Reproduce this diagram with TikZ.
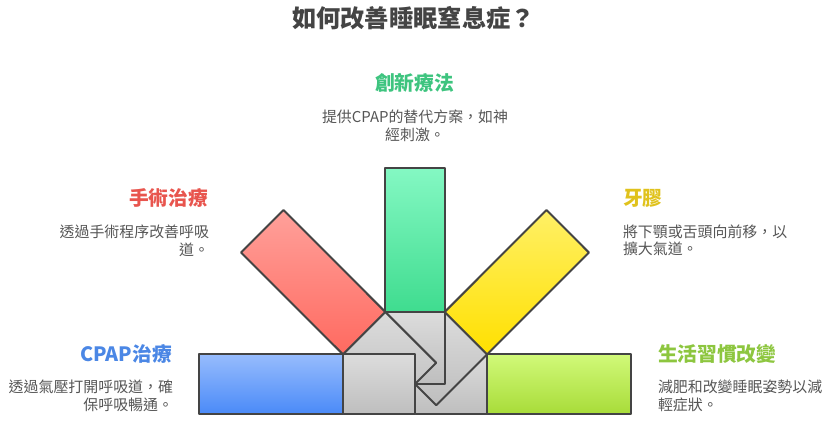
\documentclass[tikz,border=0pt]{standalone}
\usepackage{fontspec}
\setmainfont{Noto Sans CJK TC}

\definecolor{edgegray}{RGB}{68,68,68}
\definecolor{titlegray}{RGB}{68,68,68}
\definecolor{blurbgray}{RGB}{85,85,85}
\definecolor{hubtop}{RGB}{220,220,220}
\definecolor{hubbottom}{RGB}{190,190,190}
\definecolor{bluetop}{RGB}{151,188,253}
\definecolor{bluebottom}{RGB}{74,138,248}
\definecolor{redtop}{RGB}{255,160,154}
\definecolor{redbottom}{RGB}{255,106,96}
\definecolor{greentop}{RGB}{132,248,195}
\definecolor{greenbottom}{RGB}{63,220,143}
\definecolor{yellowtop}{RGB}{255,240,102}
\definecolor{yellowbottom}{RGB}{255,224,0}
\definecolor{limetop}{RGB}{209,249,121}
\definecolor{limebottom}{RGB}{168,220,57}
\definecolor{bluelabel}{RGB}{75,135,229}
\definecolor{redlabel}{RGB}{232,85,78}
\definecolor{greenlabel}{RGB}{62,196,127}
\definecolor{yellowlabel}{RGB}{224,194,28}
\definecolor{limelabel}{RGB}{141,198,63}

\tikzset{every picture/.style={line width=1.5pt}}
\tikzset{
	part/.style={draw=edgegray, line join=round},
	hub/.style={part, top color=hubtop, bottom color=hubbottom},
	heading/.style={font=\bfseries\fontsize{14.8}{17}\selectfont, inner sep=0pt},
	blurb/.style={font=\fontsize{11.2}{13.2}\selectfont, text=blurbgray, inner sep=0pt}}

\begin{document}
\begin{tikzpicture}[x=0.75pt,y=0.75pt,yscale=-1,xscale=1]
	\useasboundingbox (0,0) rectangle (827,426);

	%Shape: Rectangle (lime arm, hub part)
	\draw [hub] (415,354) -- (487,354) -- (487,414) -- (415,414) -- cycle ;
	%Shape: Rectangle (lime arm)
	\draw [part, top color=limetop, bottom color=limebottom] (487,354) -- (631,354) -- (631,414) -- (487,414) -- cycle ;
	%Shape: Rectangle (yellow arm, hub part)
	\draw [hub] (444.7,311.9) -- (487.1,354.3) -- (436.2,405.2) -- (393.8,362.8) -- cycle ;
	%Shape: Rectangle (yellow arm)
	\draw [part, top color=yellowtop, bottom color=yellowbottom] (546.5,210) -- (588.9,252.5) -- (487.1,354.3) -- (444.7,311.9) -- cycle ;
	%Shape: Rectangle (green arm, hub part)
	\draw [hub] (385,312) -- (445,312) -- (445,384) -- (385,384) -- cycle ;
	%Shape: Rectangle (green arm)
	\draw [part, top color=greentop, bottom color=greenbottom] (385,168) -- (445,168) -- (445,312) -- (385,312) -- cycle ;
	%Shape: Rectangle (red arm, hub part)
	\draw [hub] (385.3,311.9) -- (436.2,362.8) -- (393.8,405.2) -- (342.9,354.3) -- cycle ;
	%Shape: Rectangle (red arm)
	\draw [part, top color=redtop, bottom color=redbottom] (283.5,210) -- (385.3,311.9) -- (342.9,354.3) -- (241,252.5) -- cycle ;
	%Shape: Rectangle (blue arm, hub part)
	\draw [hub] (343,354) -- (415,354) -- (415,414) -- (343,414) -- cycle ;
	%Shape: Rectangle (blue arm)
	\draw [part, top color=bluetop, bottom color=bluebottom] (199,354) -- (343,354) -- (343,414) -- (199,414) -- cycle ;

	% Text Node
	\node (title) at (413.5,18) [font=\bfseries\fontsize{18.2}{21}\selectfont, text=titlegray, inner sep=0pt] {如何改善睡眠窒息症？};
	% Text Node
	\node (headNew) at (414.5,83) [heading, text=greenlabel] {創新療法};
	% Text Node
	\node (textNew) at (415,126) [blurb, align=center] {提供CPAP的替代方案，如神\\經刺激。};
	% Text Node
	\node (headSurgery) at (209,198) [heading, text=redlabel, anchor=east] {手術治療};
	% Text Node
	\node (textSurgery) at (210,240.5) [blurb, align=right, anchor=east] {透過手術程序改善呼吸\\道。};
	% Text Node
	\node (headCpap) at (173,354) [heading, text=bluelabel, anchor=east] {CPAP治療};
	% Text Node
	\node (textCpap) at (174,396) [blurb, align=right, anchor=east] {透過氣壓打開呼吸道，確\\保呼吸暢通。};
	% Text Node
	\node (headOral) at (622,198) [heading, text=yellowlabel, anchor=west] {牙膠};
	% Text Node
	\node (textOral) at (622,240.5) [blurb, align=left, anchor=west] {將下顎或舌頭向前移，以\\擴大氣道。};
	% Text Node
	\node (headLife) at (657,354) [heading, text=limelabel, anchor=west] {生活習慣改變};
	% Text Node
	\node (textLife) at (657,396) [blurb, align=left, anchor=west] {減肥和改變睡眠姿勢以減\\輕症狀。};

\end{tikzpicture}
\end{document}
